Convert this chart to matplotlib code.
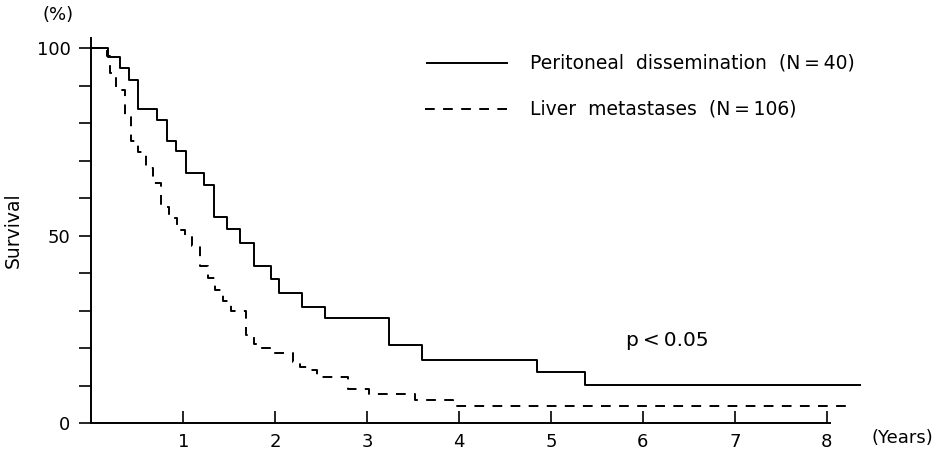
import matplotlib.pyplot as plt
import numpy as np

# Kaplan-Meier steps (years, % survival)
perit_t = [0, 0.18, 0.31, 0.41, 0.51, 0.71, 0.82, 0.92, 1.03, 1.22, 1.33, 1.47,
           1.62, 1.77, 1.95, 2.04, 2.29, 2.54, 3.24, 3.60, 4.85, 5.37, 8.36]
perit_s = [100, 97.5, 94.7, 91.6, 83.7, 80.8, 75.3, 72.6, 66.6, 63.6, 54.9, 51.7,
           47.9, 41.9, 38.3, 34.6, 31.0, 27.9, 20.8, 16.8, 13.6, 10.1, 10.1]

liver_t = [0, 0.17, 0.20, 0.27, 0.36, 0.43, 0.51, 0.59, 0.67, 0.76, 0.84, 0.93,
           1.02, 1.09, 1.18, 1.27, 1.34, 1.43, 1.52, 1.68, 1.77, 1.85, 1.94,
           2.19, 2.27, 2.36, 2.45, 2.79, 3.02, 3.52, 3.93, 8.22]
liver_s = [100, 98, 93.4, 88.8, 81.7, 75.2, 72.4, 67.9, 63.9, 57.7, 54.6, 51.6,
           49.7, 47.3, 41.9, 38.8, 35.6, 32.6, 29.9, 23.5, 21.2, 19.9, 18.6,
           16.4, 15.0, 14.1, 12.2, 9.2, 7.7, 6.1, 4.6, 4.6]

labels = ["Peritoneal  dissemination  (N\u2009=\u200940)",
          "Liver  metastases  (N\u2009=\u2009106)"]
xticks = [1, 2, 3, 4, 5, 6, 7, 8]

dash = (0, (5, 4.3))

fig = plt.figure(figsize=(9.38, 4.54), dpi=100)
ax = fig.add_axes([0.0975, 0.0683, 0.823, 0.848])

ax.step(perit_t, perit_s, where="post", color="black", linewidth=1.4)
ax.step(liver_t, liver_s, where="post", color="black", linewidth=1.4,
        linestyle=dash)

ax.set_xlim(0, 8.4)
ax.set_ylim(0, 102.7)
for s in ["top", "right"]:
    ax.spines[s].set_visible(False)
ax.spines["bottom"].set_bounds(0, 8.04)
ax.spines["left"].set_linewidth(1.4)
ax.spines["bottom"].set_linewidth(1.4)

ax.set_xticks(xticks)
ax.set_xticklabels([str(x) for x in xticks], fontsize=13)
ax.tick_params(axis="x", direction="in", length=9, width=1.2, pad=7)
ax.set_yticks(np.arange(0, 101, 10))
ax.set_yticklabels(["0", "", "", "", "", "50", "", "", "", "", "100"], fontsize=13)
ax.tick_params(axis="y", direction="out", length=9, width=1.2, pad=6)

ax.set_ylabel("Survival", fontsize=13.5, labelpad=10)
fig.text(58 / 938, 1 - 15 / 454, "(%)", fontsize=13, ha="center", va="center")
fig.text(902 / 938, 1 - 438 / 454, "(Years)", fontsize=13, ha="center", va="center")

# legend drawn by hand
ax.plot([3.65, 4.52], [96, 96], color="black", linewidth=1.4)
ax.plot([3.63, 4.52], [83.8, 83.8], color="black", linewidth=1.4, linestyle=dash)
ax.text(4.77, 96, labels[0], fontsize=13.5, va="center")
ax.text(4.77, 83.8, labels[1], fontsize=13.5, va="center")
ax.text(5.82, 22, "p\u2009<\u20090.05", fontsize=14.5, va="center")

fig.savefig("out.png", dpi=100)
